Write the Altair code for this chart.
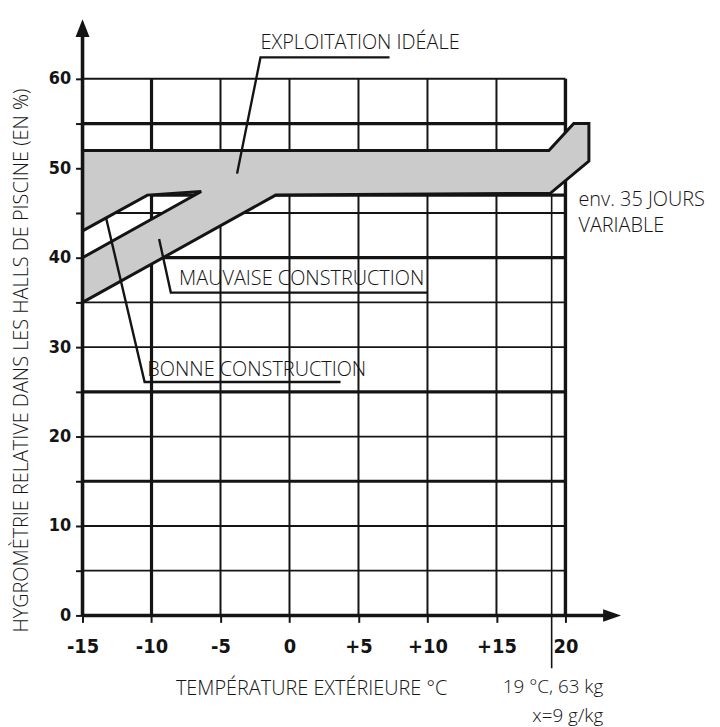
import altair as alt
import pandas as pd

LINE = "#141414"
FONT = "Open Sans"
TICK_FONT = "'Liberation Sans Narrow', 'DejaVu Sans Condensed', 'Arial Narrow', sans-serif"

# ---------------- scales ----------------
x_domain = [-15, 24.5]
y_domain = [0, 67]

# ---------------- ticks ----------------
x_tick_values = [-15, -10, -5, 0, 5, 10, 15, 20]
x_tick_labels = ["-15", "-10", "-5", "0", "+5", "+10", "+15", "20"]
y_tick_values = [0, 5, 10, 15, 20, 25, 30, 35, 40, 45, 50, 55, 60]
y_tick_labels = ["0", "", "10", "", "20", "", "30", "", "40", "", "50", "", "60"]

# ---------------- grid lines ----------------
hgrid_y = [5, 10, 15, 20, 25, 30, 35, 40, 45, 47, 55, 60]
hgrid_x1 = [-15, -15, -15, -15, -15, -15, -15, -15, -15, -10, -15, -15]
hgrid_x2 = [20, 20, 20, 20, 20, 20, 20, 20, 20, 20, 20, 20]
hgrid_w = [1.8, 1.8, 3.2, 1.8, 3.2, 1.8, 1.8, 3.2, 1.8, 3.2, 3.2, 2.0]

vgrid_x = [-10, -5, 0, 5, 10, 15, 19, 20]
vgrid_y1 = [0, 0, 0, 0, 0, 0, -5.9, 0]
vgrid_y2 = [60, 60, 60, 60, 60, 60, 47, 60]
vgrid_w = [3.2, 2.0, 2.0, 2.0, 2.0, 2.0, 1.6, 3.4]

# ---------------- stippled band (outline) ----------------
band_x = [-15, 18.8, 20.6, 21.7, 21.7, 18.9, -1, -15, -15, -6.4, -10.3, -15]
band_y = [52, 52, 55, 55, 50.8, 47.2, 47, 35, 40, 47.4, 47, 43]

# ---------------- leader lines ----------------
leader_id = ["expl", "expl", "expl", "mauv", "mauv", "mauv", "bonne", "bonne", "bonne"]
leader_x = [-3.8, -2.1, 7.25, -9.45, -8.6, 10.0, -13.3, -10.5, 3.7]
leader_y = [49.4, 62.4, 62.4, 42.1, 36.1, 36.1, 44.5, 26.1, 26.1]

# ---------------- axis lines and arrows ----------------
axis_x = [-15, -15]
axis_x2 = [23.4, -15]
axis_y = [0, 0]
axis_y2 = [0, 65.7]
arrow_x = [-15, 23.38]
arrow_y = [65.67, 0]
arrow_shape = ["up", "right"]

# ---------------- texts ----------------
left_texts = ["EXPLOITATION IDÉALE", "MAUVAISE CONSTRUCTION", "BONNE CONSTRUCTION",
              "env. 35 JOURS", "VARIABLE", "TEMPÉRATURE EXTÉRIEURE °C"]
left_x = [-2.1, -8.0, -10.3, 20.94, 20.94, -8.23]
left_y = [63.3, 36.9, 26.8, 45.8, 42.9, -8.9]

right_texts = ["19 °C, 63 kg", "x=9 g/kg"]
right_x = [22.74, 22.74]
right_y = [-8.7, -11.95]

y_title = ["HYGROMÈTRIE RELATIVE DANS LES HALLS DE PISCINE (EN %)"]
y_title_x = [-19.4]
y_title_y = [28.5]

# ---------------- helpers ----------------
def expr_from(values, labels):
    parts = [f"datum.value == {v} ? '{l}'" for v, l in zip(values, labels)]
    return " : ".join(parts) + " : ''"

xs = alt.Scale(domain=x_domain, nice=False, zero=False)
ys = alt.Scale(domain=y_domain, nice=False, zero=False)

x_axis = alt.Axis(values=x_tick_values, labelExpr=expr_from(x_tick_values, x_tick_labels),
                  grid=False, domain=False, ticks=True, tickSize=7, tickWidth=2,
                  tickColor=LINE, labelFont=TICK_FONT, labelFontSize=20,
                  labelFontWeight="bold", labelColor=LINE, labelPadding=14,
                  labelFlush=False, labelOverlap=False, title=None)
y_axis = alt.Axis(values=y_tick_values, labelExpr=expr_from(y_tick_values, y_tick_labels),
                  grid=False, domain=False, ticks=True, tickSize=7, tickWidth=2,
                  tickColor=LINE, labelFont=TICK_FONT, labelFontSize=18,
                  labelFontWeight="bold", labelColor=LINE, labelPadding=5,
                  labelFlush=False, labelOverlap=False, title=None)


def X(f):
    return alt.X(f, type="quantitative", scale=xs, axis=x_axis)


def Y(f):
    return alt.Y(f, type="quantitative", scale=ys, axis=y_axis)


# ---------------- layers ----------------
hgrid = alt.Chart(pd.DataFrame({"y": hgrid_y, "x1": hgrid_x1, "x2": hgrid_x2, "w": hgrid_w})).mark_rule(
    color=LINE).encode(x=X("x1"), x2="x2:Q", y=Y("y"), strokeWidth=alt.StrokeWidth("w:Q", scale=None))

vgrid = alt.Chart(pd.DataFrame({"x": vgrid_x, "y1": vgrid_y1, "y2": vgrid_y2, "w": vgrid_w})).mark_rule(
    color=LINE).encode(x=X("x"), y=Y("y1"), y2="y2:Q", strokeWidth=alt.StrokeWidth("w:Q", scale=None))

band = alt.Chart(pd.DataFrame({"x": band_x, "y": band_y, "o": list(range(len(band_x)))})).mark_line(
    interpolate="linear-closed", fill="#cbcbcb", stroke=LINE, strokeWidth=3, strokeJoin="miter"
).encode(x=X("x"), y=Y("y"), order="o:Q")

leaders = alt.Chart(pd.DataFrame({"id": leader_id, "x": leader_x, "y": leader_y,
                                  "o": list(range(len(leader_x)))})).mark_line(
    color=LINE, strokeWidth=2.4).encode(x=X("x"), y=Y("y"), detail="id:N", order="o:Q")

axes = alt.Chart(pd.DataFrame({"x": axis_x, "x2": axis_x2, "y": axis_y, "y2": axis_y2})).mark_rule(
    color=LINE, strokeWidth=3.6).encode(x=X("x"), x2="x2:Q", y=Y("y"), y2="y2:Q")

arrows = alt.Chart(pd.DataFrame({"x": arrow_x, "y": arrow_y, "s": arrow_shape})).mark_point(
    filled=True, size=324, opacity=1, color=LINE, strokeWidth=0).encode(
    x=X("x"), y=Y("y"),
    shape=alt.Shape("s:N", scale=alt.Scale(domain=["up", "right"],
                                          range=["M0,-1L0.78,1L-0.78,1Z", "M1,0L-1,-0.7L-1,0.7Z"]),
                    legend=None))

txt_left = alt.Chart(pd.DataFrame({"t": left_texts, "x": left_x, "y": left_y})).mark_text(
    align="left", baseline="alphabetic", font=FONT, fontSize=20, fontWeight=300, color=LINE).encode(
    x=X("x"), y=Y("y"), text="t:N")

txt_right = alt.Chart(pd.DataFrame({"t": right_texts, "x": right_x, "y": right_y})).mark_text(
    align="right", baseline="alphabetic", font=FONT, fontSize=19, fontWeight=300, color=LINE).encode(
    x=X("x"), y=Y("y"), text="t:N")

txt_title = alt.Chart(pd.DataFrame({"t": y_title, "x": y_title_x, "y": y_title_y})).mark_text(
    align="center", baseline="middle", angle=270, font=FONT, fontSize=20, fontWeight=300,
    color=LINE).encode(x=X("x"), y=Y("y"), text="t:N")

chart = alt.layer(hgrid, vgrid, band, leaders, axes, arrows, txt_left, txt_right, txt_title).properties(
    width=548.5, height=603,
    autosize=alt.AutoSizeParams(type="none"),
    padding={"left": 75, "top": 6, "right": 85, "bottom": 110},
    background="white",
).configure_view(stroke=None)

chart.save("out.html", embed_options={"renderer": "svg", "actions": False})
